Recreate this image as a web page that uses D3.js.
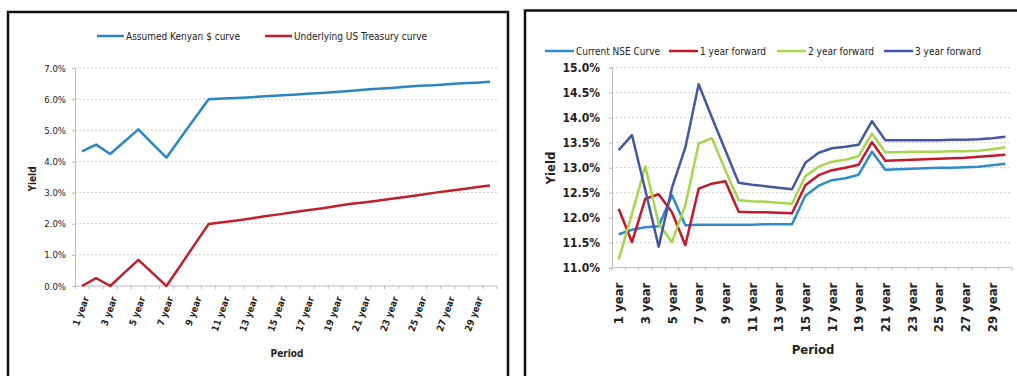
<!DOCTYPE html>
<html>
<head>
<meta charset="utf-8">
<script src="https://cdn.jsdelivr.net/npm/d3@7"></script>
<style>
  body { margin: 0; background: #fff; }
  svg { display: block; }
  text { font-family: "Liberation Sans Narrow", "Arial Narrow", "DejaVu Sans Condensed", sans-serif; fill: #222; }
</style>
</head>
<body>
<div id="chart"></div>
<script>
const periods = ["1 year","2 year","3 year","4 year","5 year","6 year","7 year","8 year","9 year","10 year",
  "11 year","12 year","13 year","14 year","15 year","16 year","17 year","18 year","19 year","20 year",
  "21 year","22 year","23 year","24 year","25 year","26 year","27 year","28 year","29 year","30 year"];

// left chart (yield, %)
const kenyanCurve = [4.32, 4.54, 4.24, 4.63, 5.03, 4.57, 4.12, 4.75, 5.38, 6.00,
  6.02, 6.04, 6.06, 6.09, 6.12, 6.14, 6.17, 6.20, 6.23, 6.26,
  6.30, 6.33, 6.36, 6.40, 6.43, 6.45, 6.48, 6.51, 6.53, 6.56];
const usTreasury = [0.00, 0.25, 0.00, 0.42, 0.84, 0.42, 0.00, 0.66, 1.33, 1.99,
  2.05, 2.10, 2.17, 2.24, 2.30, 2.37, 2.43, 2.49, 2.56, 2.63,
  2.68, 2.74, 2.80, 2.86, 2.92, 2.99, 3.05, 3.11, 3.17, 3.23];
const leftTicks = [0, 1, 2, 3, 4, 5, 6, 7];

// right chart (yield, %)
const currentNSE = [11.67, 11.76, 11.81, 11.83, 12.45, 11.85, 11.86, 11.86, 11.86, 11.86,
  11.86, 11.87, 11.87, 11.87, 12.44, 12.64, 12.75, 12.79, 12.86, 13.32,
  12.96, 12.97, 12.98, 12.99, 13.00, 13.00, 13.01, 13.02, 13.05, 13.08];
const forward1 = [12.18, 11.51, 12.38, 12.47, 12.11, 11.45, 12.58, 12.68, 12.73, 12.12,
  12.11, 12.11, 12.10, 12.09, 12.65, 12.85, 12.95, 13.00, 13.06, 13.51,
  13.14, 13.15, 13.16, 13.17, 13.18, 13.19, 13.20, 13.22, 13.24, 13.26];
const forward2 = [11.16, 12.08, 13.03, 11.88, 11.51, 12.25, 13.48, 13.59, 12.95, 12.35,
  12.33, 12.32, 12.30, 12.28, 12.83, 13.02, 13.12, 13.16, 13.23, 13.68,
  13.31, 13.31, 13.32, 13.32, 13.32, 13.33, 13.33, 13.34, 13.37, 13.41];
const forward3 = [13.35, 13.65, 12.55, 11.42, 12.60, 13.40, 14.67, 14.00, 13.35, 12.70,
  12.66, 12.63, 12.60, 12.57, 13.10, 13.30, 13.39, 13.42, 13.46, 13.93,
  13.55, 13.55, 13.55, 13.55, 13.55, 13.56, 13.56, 13.57, 13.59, 13.62];
const rightTicks = [11, 11.5, 12, 12.5, 13, 13.5, 14, 14.5, 15];

const W = 1017, H = 376;
const svg = d3.select("#chart").append("svg").attr("width", W).attr("height", H);
svg.append("rect").attr("width", W).attr("height", H).attr("fill", "#fff");

function drawChart(o) {
  const g = svg.append("g");
  // frame
  g.append("rect").attr("x", o.frame[0]).attr("y", o.frame[1])
    .attr("width", o.frame[2]).attr("height", o.frame[3])
    .attr("fill", "none").attr("stroke", "#111").attr("stroke-width", 2.5);

  const x = d3.scaleBand().domain(periods).range([o.left, o.right]);
  const y = d3.scaleLinear().domain(o.domain).range([o.bottom, o.top]);
  const cx = d => x(d) + x.bandwidth() / 2;

  // gridlines
  g.selectAll(".grid").data(o.ticks.slice(1)).enter().append("line")
    .attr("x1", o.left).attr("x2", o.right)
    .attr("y1", d => y(d)).attr("y2", d => y(d))
    .attr("stroke", "#cfcfbf").attr("stroke-dasharray", "2,2");

  // y axis
  const yAxis = d3.axisLeft(y).tickValues(o.ticks).tickSize(3).tickPadding(o.yPad)
    .tickFormat(d => d.toFixed(1) + "%");
  const ya = g.append("g").attr("transform", `translate(${o.left},0)`).call(yAxis);
  ya.select(".domain").attr("stroke", "#bbb");
  ya.selectAll(".tick line").attr("stroke", "#bbb");
  ya.selectAll("text").attr("font-size", o.yFont).attr("font-weight", o.yWeight)
    .style("font-family", null).attr("fill", "#222");

  // x axis (ticks at category edges, labels on every other category)
  const xa = g.append("g").attr("transform", `translate(0,${o.bottom})`);
  xa.append("line").attr("x1", o.left).attr("x2", o.right).attr("stroke", "#bbb");
  xa.selectAll(".xt").data(periods.concat(["end"])).enter().append("line")
    .attr("x1", (d, i) => o.left + i * x.bandwidth()).attr("x2", (d, i) => o.left + i * x.bandwidth())
    .attr("y1", 0).attr("y2", 3).attr("stroke", "#bbb");
  xa.selectAll(".xl").data(periods.filter((d, i) => i % 2 === 0)).enter().append("text")
    .attr("transform", d => `translate(${cx(d) + o.xShift},${o.xLabelDy}) rotate(${o.xRot})`)
    .attr("text-anchor", "end").attr("dy", "0.35em")
    .attr("font-size", o.xFont).attr("font-weight", "bold")
    .text(d => d);

  // titles
  g.append("text").attr("transform", `translate(${o.yTitle[0]},${o.yTitle[1]}) rotate(-90)`)
    .attr("text-anchor", "middle").attr("font-size", o.titleFont).attr("font-weight", "bold").text("Yield");
  g.append("text").attr("x", o.xTitle[0]).attr("y", o.xTitle[1])
    .attr("text-anchor", "middle").attr("font-size", o.titleFont).attr("font-weight", "bold").text("Period");

  // lines
  const line = d3.line().x((d, i) => cx(periods[i])).y(d => y(d));
  o.series.forEach(s => {
    g.append("path").datum(s.values).attr("d", line)
      .attr("fill", "none").attr("stroke", s.color).attr("stroke-width", 2.5)
      .attr("stroke-linejoin", "round");
  });

  // legend
  const lg = g.selectAll(".leg").data(o.series).enter().append("g")
    .attr("transform", s => `translate(${s.legendX},${o.legendY})`);
  lg.append("line").attr("x1", 0).attr("x2", o.legendLine).attr("stroke", s => s.color).attr("stroke-width", 2.5);
  lg.append("text").attr("x", o.legendLine + 2).attr("dy", "0.35em")
    .attr("font-size", o.legendFont).text(s => s.name);
}

drawChart({
  frame: [8, 12, 500, 400],
  left: 75, right: 497, top: 68, bottom: 286, domain: [0, 7], ticks: leftTicks,
  yFont: 9.5, yWeight: "normal", yPad: 6,
  xFont: 9.5, xRot: -70, xShift: 4, xLabelDy: 11,
  titleFont: 10, yTitle: [36, 179], xTitle: [287, 357],
  legendY: 36, legendLine: 27, legendFont: 10,
  series: [
    { name: "Assumed Kenyan $ curve", values: kenyanCurve, color: "#2a86c2", legendX: 97 },
    { name: "Underlying US Treasury curve", values: usTreasury, color: "#c01f2c", legendX: 265 }
  ]
});

drawChart({
  frame: [525, 10.5, 520, 400],
  left: 612, right: 1012, top: 67.7, bottom: 267.7, domain: [11, 15], ticks: rightTicks,
  yFont: 12, yWeight: "bold", yPad: 9,
  xFont: 13, xRot: -90, xShift: 0, xLabelDy: 15,
  titleFont: 13, yTitle: [555, 168], xTitle: [813, 354],
  legendY: 51, legendLine: 29, legendFont: 10,
  series: [
    { name: "Current NSE Curve", values: currentNSE, color: "#2e8bcc", legendX: 545 },
    { name: "1 year forward", values: forward1, color: "#c4172b", legendX: 669 },
    { name: "2 year forward", values: forward2, color: "#a5d64c", legendX: 777 },
    { name: "3 year forward", values: forward3, color: "#4656a6", legendX: 884 }
  ]
});
</script>
</body>
</html>
